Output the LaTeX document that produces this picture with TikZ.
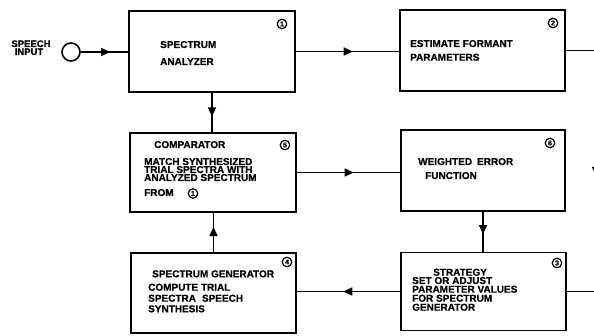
\documentclass[tikz,border=0pt]{standalone}
\usepackage{fontspec}
\setmainfont{Liberation Sans}[BoldFeatures={FakeBold=0.8}]
\usetikzlibrary{arrows.meta,decorations.markings}
\begin{document}
\begin{tikzpicture}[x=1pt,y=-1pt,
  box/.style={draw,line width=1.8pt,inner sep=0pt},
  conn/.style={line width=1.5pt},
  lbl/.style={anchor=base west,inner sep=0pt,text height=7.2pt,text depth=0pt,font=\fontsize{10}{8.5}\selectfont\bfseries},
  clbl/.style={anchor=base,inner sep=0pt,text height=6.8pt,text depth=0pt,font=\fontsize{9.5}{8}\selectfont\bfseries},
  cnum/.style={circle,draw,line width=1.2pt,inner sep=0pt,minimum size=9.5pt,font=\fontsize{7}{7}\selectfont\bfseries},
  midarrow/.style={postaction={decorate},decoration={markings,mark=at position #1 with {\arrow{Triangle[length=9pt,width=8pt]}}}}]
\useasboundingbox (0,0) rectangle (594,336);
\clip (0,0) rectangle (594,336);

% boxes
\node[box,minimum width=166pt,minimum height=81pt] (b1) at (212,51.5) {};
\node[box,minimum width=165pt,minimum height=81pt] (b2) at (482.5,50.5) {};
\node[box,minimum width=166pt,minimum height=79pt] (b5) at (213,172.5) {};
\node[box,minimum width=164pt,minimum height=81pt] (b6) at (483,170.5) {};
\node[box,minimum width=165pt,minimum height=80pt] (b4) at (213.5,293) {};
\node[box,minimum width=165pt,minimum height=78pt] (b3) at (483.5,291.5) {};

% input
\node[circle,draw,line width=1.6pt,minimum size=18pt,inner sep=0pt] (in) at (71,52) {};
\node[clbl] (tin1) at (31,47) {SPEECH};
\node[clbl] (tin2) at (29,55) {INPUT};

% texts
\node[lbl] (t1a) at (160,48) {SPECTRUM};
\node[lbl] (t1b) at (160,65) {ANALYZER};
\node[lbl] (t2a) at (410,47) {ESTIMATE FORMANT};
\node[lbl] (t2b) at (410,60.7) {PARAMETERS};
\node[lbl] (t5a) at (154,148) {COMPARATOR};
\node[lbl] (t5b) at (144,165) {MATCH SYNTHESIZED};
\node[lbl] (t5c) at (144,173) {TRIAL SPECTRA WITH};
\node[lbl] (t5d) at (144,181) {ANALYZED SPECTRUM};
\node[lbl] (t5e) at (144,196) {FROM};
\node[lbl] (t6a) at (418,165) {WEIGHTED\hspace{5pt}ERROR};
\node[lbl] (t6b) at (425,179) {FUNCTION};
\node[lbl] (t4a) at (152,277.3) {SPECTRUM GENERATOR};
\node[lbl] (t4b) at (148,290.7) {COMPUTE TRIAL};
\node[lbl] (t4c) at (148,301.7) {SPECTRA\hspace{6pt}SPEECH};
\node[lbl] (t4d) at (148,312.3) {SYNTHESIS};
\node[lbl] (t3a) at (433,275.7) {STRATEGY};
\node[lbl] (t3b) at (412,284) {SET OR ADJUST};
\node[lbl] (t3c) at (412,292.7) {PARAMETER VALUES};
\node[lbl] (t3d) at (412,301.7) {FOR SPECTRUM};
\node[lbl] (t3e) at (412,310.7) {GENERATOR};

% circled numbers
\node[cnum] (n1) at (282,24) {1};
\node[cnum] (n2) at (553,23) {2};
\node[cnum] (n5) at (285,145) {5};
\node[cnum] (n6) at (550,143) {6};
\node[cnum] (n4) at (287,262) {4};
\node[cnum] (n3) at (557,263) {3};
\node[cnum] (n1b) at (193,193.5) {1};

% connectors
\draw[conn,midarrow=0.62] (in.east) -- (in.east -| b1.west);
\draw[conn,midarrow=0.55] (b1.east) -- (b1.east -| b2.west);
\draw[conn,midarrow=0.6] (b1.south) -- (b1.south |- b5.north);
\draw[conn,midarrow=0.55] (b5.east) -- (b5.east -| b6.west);
\draw[conn,midarrow=0.56] (b6.south) -- (b6.south |- b3.north);
\draw[conn,midarrow=0.55] (b3.west) -- (b3.west -| b4.east);
\draw[conn,midarrow=0.64] (b4.north) -- (b4.north |- b5.south);
\coordinate (r1) at (596,50.5);
\coordinate (r2) at (596,291.5);
\draw[conn] (b2.east) -- (r1);
\draw[conn,midarrow=0.52] (r1) -- (r2);
\draw[conn] (r2) -- (b3.east);
\end{tikzpicture}
\end{document}
